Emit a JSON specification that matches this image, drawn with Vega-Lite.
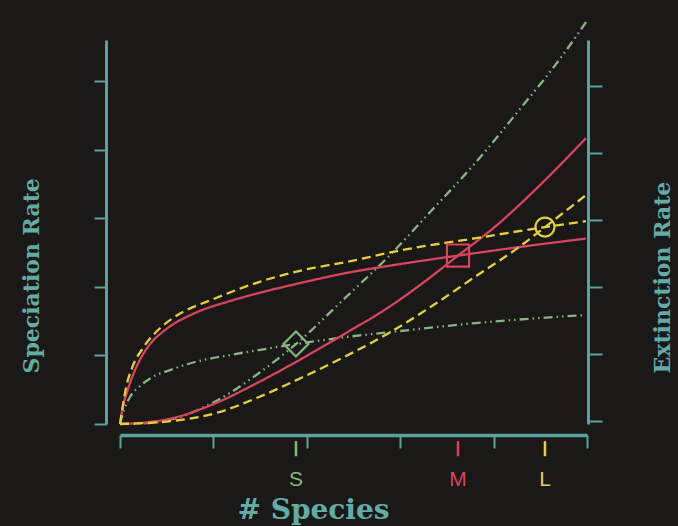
{
  "$schema": "https://vega.github.io/schema/vega-lite/v6.json",
  "width": 467,
  "height": 384,
  "autosize": {"type": "none"},
  "padding": {"left": 120, "top": 40, "right": 91, "bottom": 102},
  "background": "#1b1918",
  "config": {
    "view": {"stroke": null},
    "axis": {
      "grid": false,
      "labels": false,
      "domainColor": "#58a3a1",
      "tickColor": "#58a3a1",
      "domainWidth": 3,
      "tickWidth": 2,
      "titleColor": "#62aca8",
      "titleFont": "DejaVu Serif",
      "titleFontWeight": "bold"
    }
  },
  "datasets": {
    "curves": [
      {"island": "S", "process": "speciation", "species": 0, "rate": 0},
      {"island": "S", "process": "speciation", "species": 0.043, "rate": 0.204},
      {"island": "S", "process": "speciation", "species": 0.107, "rate": 0.394},
      {"island": "S", "process": "speciation", "species": 0.214, "rate": 0.554},
      {"island": "S", "process": "speciation", "species": 0.332, "rate": 0.671},
      {"island": "S", "process": "speciation", "species": 0.567, "rate": 0.802},
      {"island": "S", "process": "speciation", "species": 0.803, "rate": 0.904},
      {"island": "S", "process": "speciation", "species": 1.178, "rate": 1.006},
      {"island": "S", "process": "speciation", "species": 1.488, "rate": 1.079},
      {"island": "S", "process": "speciation", "species": 1.884, "rate": 1.166},
      {"island": "S", "process": "speciation", "species": 2.42, "rate": 1.268},
      {"island": "S", "process": "speciation", "species": 2.998, "rate": 1.356},
      {"island": "S", "process": "speciation", "species": 3.812, "rate": 1.472},
      {"island": "S", "process": "speciation", "species": 4.989, "rate": 1.589},

      {"island": "S", "process": "extinction", "species": 0, "rate": 0},
      {"island": "S", "process": "extinction", "species": 0.321, "rate": 0.015},
      {"island": "S", "process": "extinction", "species": 0.567, "rate": 0.073},
      {"island": "S", "process": "extinction", "species": 1.028, "rate": 0.335},
      {"island": "S", "process": "extinction", "species": 1.488, "rate": 0.743},
      {"island": "S", "process": "extinction", "species": 1.884, "rate": 1.166},
      {"island": "S", "process": "extinction", "species": 2.42, "rate": 1.851},
      {"island": "S", "process": "extinction", "species": 2.88, "rate": 2.449},
      {"island": "S", "process": "extinction", "species": 3.34, "rate": 3.12},
      {"island": "S", "process": "extinction", "species": 3.812, "rate": 3.819},
      {"island": "S", "process": "extinction", "species": 4.272, "rate": 4.577},
      {"island": "S", "process": "extinction", "species": 4.732, "rate": 5.364},
      {"island": "S", "process": "extinction", "species": 4.989, "rate": 5.86},

      {"island": "M", "process": "speciation", "species": 0, "rate": 0},
      {"island": "M", "process": "speciation", "species": 0.032, "rate": 0.262},
      {"island": "M", "process": "speciation", "species": 0.075, "rate": 0.466},
      {"island": "M", "process": "speciation", "species": 0.139, "rate": 0.714},
      {"island": "M", "process": "speciation", "species": 0.236, "rate": 0.991},
      {"island": "M", "process": "speciation", "species": 0.332, "rate": 1.181},
      {"island": "M", "process": "speciation", "species": 0.482, "rate": 1.37},
      {"island": "M", "process": "speciation", "species": 0.803, "rate": 1.618},
      {"island": "M", "process": "speciation", "species": 1.178, "rate": 1.793},
      {"island": "M", "process": "speciation", "species": 1.488, "rate": 1.91},
      {"island": "M", "process": "speciation", "species": 1.927, "rate": 2.055},
      {"island": "M", "process": "speciation", "species": 2.42, "rate": 2.201},
      {"island": "M", "process": "speciation", "species": 2.998, "rate": 2.332},
      {"island": "M", "process": "speciation", "species": 3.619, "rate": 2.456},
      {"island": "M", "process": "speciation", "species": 4.272, "rate": 2.58},
      {"island": "M", "process": "speciation", "species": 4.989, "rate": 2.704},

      {"island": "M", "process": "extinction", "species": 0, "rate": 0},
      {"island": "M", "process": "extinction", "species": 0.321, "rate": 0.029},
      {"island": "M", "process": "extinction", "species": 0.567, "rate": 0.087},
      {"island": "M", "process": "extinction", "species": 1.028, "rate": 0.306},
      {"island": "M", "process": "extinction", "species": 1.488, "rate": 0.612},
      {"island": "M", "process": "extinction", "species": 1.959, "rate": 0.962},
      {"island": "M", "process": "extinction", "species": 2.42, "rate": 1.327},
      {"island": "M", "process": "extinction", "species": 2.88, "rate": 1.706},
      {"island": "M", "process": "extinction", "species": 3.212, "rate": 2.026},
      {"island": "M", "process": "extinction", "species": 3.619, "rate": 2.456},
      {"island": "M", "process": "extinction", "species": 4.036, "rate": 2.901},
      {"island": "M", "process": "extinction", "species": 4.497, "rate": 3.484},
      {"island": "M", "process": "extinction", "species": 4.989, "rate": 4.169},

      {"island": "L", "process": "speciation", "species": 0, "rate": 0},
      {"island": "L", "process": "speciation", "species": 0.032, "rate": 0.277},
      {"island": "L", "process": "speciation", "species": 0.064, "rate": 0.525},
      {"island": "L", "process": "speciation", "species": 0.128, "rate": 0.816},
      {"island": "L", "process": "speciation", "species": 0.246, "rate": 1.108},
      {"island": "L", "process": "speciation", "species": 0.407, "rate": 1.37},
      {"island": "L", "process": "speciation", "species": 0.567, "rate": 1.545},
      {"island": "L", "process": "speciation", "species": 1.028, "rate": 1.837},
      {"island": "L", "process": "speciation", "species": 1.488, "rate": 2.07},
      {"island": "L", "process": "speciation", "species": 1.959, "rate": 2.245},
      {"island": "L", "process": "speciation", "species": 2.42, "rate": 2.362},
      {"island": "L", "process": "speciation", "species": 3.019, "rate": 2.536},
      {"island": "L", "process": "speciation", "species": 3.812, "rate": 2.711},
      {"island": "L", "process": "speciation", "species": 4.55, "rate": 2.872},
      {"island": "L", "process": "speciation", "species": 4.989, "rate": 2.959},

      {"island": "L", "process": "extinction", "species": 0, "rate": 0},
      {"island": "L", "process": "extinction", "species": 0.567, "rate": 0.044},
      {"island": "L", "process": "extinction", "species": 1.028, "rate": 0.16},
      {"island": "L", "process": "extinction", "species": 1.488, "rate": 0.394},
      {"island": "L", "process": "extinction", "species": 1.959, "rate": 0.685},
      {"island": "L", "process": "extinction", "species": 2.42, "rate": 0.991},
      {"island": "L", "process": "extinction", "species": 2.88, "rate": 1.327},
      {"island": "L", "process": "extinction", "species": 3.34, "rate": 1.72},
      {"island": "L", "process": "extinction", "species": 3.812, "rate": 2.157},
      {"island": "L", "process": "extinction", "species": 4.272, "rate": 2.58},
      {"island": "L", "process": "extinction", "species": 4.55, "rate": 2.872},
      {"island": "L", "process": "extinction", "species": 4.989, "rate": 3.338}
    ],
    "equilibria": [
      {"island": "S", "species": 1.884, "rate": 1.166},
      {"island": "M", "species": 3.619, "rate": 2.456},
      {"island": "L", "species": 4.55, "rate": 2.872}
    ]
  },
  "layer": [
    {
      "layer": [
        {
          "data": {"name": "curves"},
          "mark": {"type": "line", "interpolate": "monotone", "clip": false, "strokeWidth": 2.3},
          "encoding": {
            "x": {
              "field": "species",
              "type": "quantitative",
              "scale": {"domain": [0, 5], "nice": false, "zero": false},
              "axis": {
                "orient": "bottom",
                "offset": 11,
                "values": [0, 1, 2, 3, 4, 5],
                "tickSize": 13,
                "domainWidth": 3.5,
                "title": "# Species",
                "titleFontSize": 28,
                "titleAlign": "center",
                "titleBaseline": "alphabetic",
                "titleX": 193,
                "titleY": 83
              }
            },
            "y": {
              "field": "rate",
              "type": "quantitative",
              "scale": {"domain": [0, 5.6], "nice": false, "zero": false},
              "axis": {
                "orient": "left",
                "offset": 14,
                "values": [0, 1, 2, 3, 4, 5],
                "tickSize": 12,
                "title": "Speciation Rate",
                "titleFontSize": 22,
                "titleAngle": 270,
                "titleAlign": "left",
                "titleBaseline": "alphabetic",
                "titleX": -68,
                "titleY": 333
              }
            },
            "color": {
              "field": "island",
              "type": "nominal",
              "scale": {"domain": ["S", "M", "L"], "range": ["#84b87c", "#da435c", "#e6d03c"]},
              "legend": null
            },
            "strokeDash": {
              "field": "island",
              "type": "nominal",
              "scale": {"domain": ["S", "M", "L"], "range": [[9, 4, 1.5, 4, 1.5, 4], [1, 0], [9, 5]]},
              "legend": null
            },
            "detail": {"field": "process", "type": "nominal"}
          }
        },
        {
          "data": {"name": "equilibria"},
          "mark": {"type": "point", "filled": false, "strokeWidth": 2.2, "opacity": 1, "clip": false},
          "encoding": {
            "x": {"field": "species", "type": "quantitative"},
            "y": {"field": "rate", "type": "quantitative"},
            "shape": {
              "field": "island",
              "type": "nominal",
              "scale": {"domain": ["S", "M", "L"], "range": ["diamond", "square", "circle"]},
              "legend": null
            },
            "size": {
              "field": "island",
              "type": "nominal",
              "scale": {"domain": ["S", "M", "L"], "range": [620, 361, 324]},
              "legend": null
            },
            "color": {"field": "island", "type": "nominal", "legend": null}
          }
        },
        {
          "data": {"name": "equilibria"},
          "mark": {"type": "rule", "strokeWidth": 2.5, "clip": false},
          "encoding": {
            "x": {"field": "species", "type": "quantitative"},
            "y": {"datum": -0.25},
            "y2": {"datum": -0.47},
            "color": {"field": "island", "type": "nominal", "legend": null}
          }
        },
        {
          "data": {"name": "equilibria"},
          "mark": {"type": "text", "font": "Liberation Sans", "fontSize": 21, "fontWeight": 500, "align": "center", "baseline": "alphabetic", "clip": false},
          "encoding": {
            "x": {"field": "species", "type": "quantitative"},
            "y": {"datum": -0.9},
            "text": {"field": "island", "type": "nominal"},
            "color": {"field": "island", "type": "nominal", "legend": null}
          }
        }
      ]
    },
    {
      "data": {"values": [{}]},
      "mark": {"type": "rule", "opacity": 0},
      "encoding": {
        "y": {
          "datum": 0,
          "type": "quantitative",
          "scale": {"domain": [-0.045, 5.687], "nice": false, "zero": false},
          "axis": {
            "orient": "right",
            "offset": 1,
            "values": [0, 1, 2, 3, 4, 5],
            "tickSize": 14,
            "title": "Extinction Rate",
            "titleFontSize": 22,
            "titleAngle": 270,
            "titleAlign": "left",
            "titleBaseline": "alphabetic",
            "titleX": 81,
            "titleY": 333
          }
        }
      }
    }
  ],
  "resolve": {"scale": {"y": "independent"}}
}
